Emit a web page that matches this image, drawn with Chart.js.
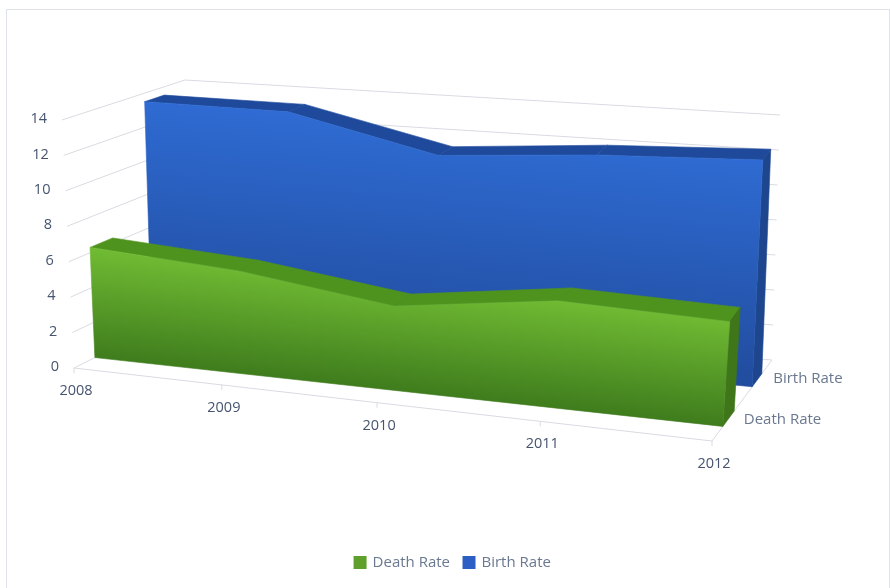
<!DOCTYPE html>
<html>
<head>
<meta charset="utf-8">
<style>
  html, body { margin: 0; padding: 0; background: #fff; }
  #wrap { width: 890px; height: 588px; }
</style>
<script src="https://cdn.jsdelivr.net/npm/chart.js@4/dist/chart.umd.min.js"></script>
</head>
<body>
<div id="wrap"><canvas id="chart" width="890" height="588"></canvas></div>
<script>
const categories = ["2008", "2009", "2010", "2011", "2012"];
const deathRate = [6.3, 5.8, 4.7, 5.9, 5.7];
const birthRate = [13.5, 13.5, 11.6, 12.3, 12.7];
const seriesNames = ["Death Rate", "Birth Rate"];

// 3d box corners of the plot, [x, y] on the page
const box = {
  frontLeftBottom: [74, 368], frontLeftTop: [62, 120],
  backLeftBottom: [190, 310], backLeftTop: [185, 80],
  frontRightBottom: [712, 441], frontRightTop: [731, 181],
  backRightBottom: [772, 360], backRightTop: [780, 115],
};
const perspective = 1.105; // far end of the x axis is squeezed less than the near end

// depth slot of each series, 0 = front of box, 1 = back
const slots = [[0.18, 0.37], [0.67, 0.83]];
const looks = [
  { top: "#4f931f", side: "#3f761a", light: "#70bb33", dark: "#3f7c1d", legend: "#5f9f2c" },
  { top: "#1f4a9c", side: "#1d468f", light: "#2f6cd4", dark: "#214c9e", legend: "#2b5fc4" },
];
const textColor = "#46546f";

function mix(a, b, t) {
  return [a[0] + (b[0] - a[0]) * t, a[1] + (b[1] - a[1]) * t];
}

function project(u, v, w) {
  const p = u / (u + perspective * (1 - u));
  const fb = mix(box.frontLeftBottom, box.frontRightBottom, p);
  const ft = mix(box.frontLeftTop, box.frontRightTop, p);
  const bb = mix(box.backLeftBottom, box.backRightBottom, p);
  const bt = mix(box.backLeftTop, box.backRightTop, p);
  return mix(mix(fb, bb, w), mix(ft, bt, w), v);
}

function poly(ctx, pts, fill) {
  ctx.beginPath();
  pts.forEach((p, i) => (i ? ctx.lineTo(p[0], p[1]) : ctx.moveTo(p[0], p[1])));
  ctx.closePath();
  ctx.fillStyle = fill;
  ctx.fill();
  // hides the seam between neighbouring strips
  ctx.strokeStyle = fill;
  ctx.lineWidth = 0.6;
  ctx.stroke();
}

function segment(ctx, a, b) {
  ctx.beginPath();
  ctx.moveTo(a[0], a[1]);
  ctx.lineTo(b[0], b[1]);
  ctx.stroke();
}

const decU = (chart, px) => (px - chart.scales.x.left) / chart.scales.x.width;
const decV = (chart, py) => (chart.scales.y.bottom - py) / chart.scales.y.height;

const plot3d = {
  id: "plot3d",
  beforeDraw(chart) {
    const ctx = chart.ctx;
    ctx.save();
    ctx.strokeStyle = "#dfe2e6";
    ctx.lineWidth = 1;
    ctx.strokeRect(6.5, 9.5, 883, 590);
    ctx.restore();
  },
  beforeDatasetsDraw(chart) {
    const ctx = chart.ctx;
    const xs = chart.scales.x;
    const ys = chart.scales.y;
    ctx.save();
    ctx.strokeStyle = "#d9dbe2";
    ctx.lineWidth = 1;
    ys.ticks.forEach((t) => {
      const v = decV(chart, ys.getPixelForValue(t.value));
      segment(ctx, project(0, v, 0), project(0, v, 1));
      segment(ctx, project(0, v, 1), project(1, v, 1));
    });
    segment(ctx, project(0, 0, 0), project(1, 0, 0));
    segment(ctx, project(1, 0, 0), project(1, 0, 1));
    xs.ticks.forEach((t) => {
      const u = decU(chart, xs.getPixelForValue(t.value));
      const p = project(u, 0, 0);
      segment(ctx, p, [p[0], p[1] + 5]);
    });

    ctx.fillStyle = textColor;
    ctx.font = '14.5px "Open Sans"';
    ctx.textBaseline = "middle";
    ctx.textAlign = "right";
    ys.ticks.forEach((t) => {
      const v = decV(chart, ys.getPixelForValue(t.value));
      const p = project(0, v, 0);
      ctx.fillText(t.label, p[0] - 15, p[1] - 1);
    });
    ctx.textAlign = "center";
    xs.ticks.forEach((t) => {
      const u = decU(chart, xs.getPixelForValue(t.value));
      const p = project(u, 0, 0);
      ctx.fillText(t.label, p[0] + 2, p[1] + 23);
    });
    ctx.textAlign = "left";
    ctx.fillStyle = "#6a7890";
    ctx.font = '15px "Open Sans"';
    seriesNames.forEach((name, i) => {
      const p = project(1, 0, slots[i][0]);
      ctx.fillText(name, p[0] + 21, p[1] - 7 - i);
    });
    ctx.restore();
  },
  beforeDatasetDraw(chart, args) {
    const ctx = chart.ctx;
    const meta = args.meta;
    const i = args.index;
    const look = looks[i];
    const w0 = slots[i][0];
    const w1 = slots[i][1];
    const uv = meta.data.map((pt) => [decU(chart, pt.x), decV(chart, pt.y)]);
    const last = uv[uv.length - 1];

    // top strips
    for (let k = 0; k < uv.length - 1; k++) {
      const a = uv[k];
      const b = uv[k + 1];
      poly(ctx, [project(a[0], a[1], w0), project(b[0], b[1], w0),
                 project(b[0], b[1], w1), project(a[0], a[1], w1)], look.top);
    }
    // right end
    poly(ctx, [project(1, last[1], w0), project(1, last[1], w1),
               project(1, 0, w1), project(1, 0, w0)], look.side);

    // front face
    const left = project(0, 0, w0);
    const right = project(1, 0, w0);
    const dx = right[0] - left[0];
    const dy = right[1] - left[1];
    const len = Math.hypot(dx, dy);
    const mid = mix(left, right, 0.5);
    const h = i === 0 ? 108 : 235;
    const grad = ctx.createLinearGradient(mid[0], mid[1], mid[0] + (dy / len) * h, mid[1] - (dx / len) * h);
    grad.addColorStop(0, look.dark);
    grad.addColorStop(1, look.light);
    const front = uv.map((p) => project(p[0], p[1], w0));
    front.push(right, left);
    poly(ctx, front, grad);
    return false;
  },
};

new Chart(document.getElementById("chart"), {
  type: "line",
  data: {
    labels: categories,
    datasets: [
      { label: seriesNames[0], data: deathRate, backgroundColor: looks[0].legend, borderColor: looks[0].legend },
      { label: seriesNames[1], data: birthRate, backgroundColor: looks[1].legend, borderColor: looks[1].legend },
    ],
  },
  options: {
    responsive: false,
    animation: false,
    layout: { padding: { left: 16, bottom: 8 } },
    scales: {
      x: { display: false },
      y: { display: false, min: 0, max: 14, ticks: { stepSize: 2 } },
    },
    plugins: {
      tooltip: { enabled: false },
      legend: {
        position: "bottom",
        labels: { boxWidth: 10, boxHeight: 10, padding: 14, color: "#6a7890", font: { family: "Open Sans", size: 15 } },
      },
    },
  },
  plugins: [plot3d],
});
</script>
</body>
</html>
